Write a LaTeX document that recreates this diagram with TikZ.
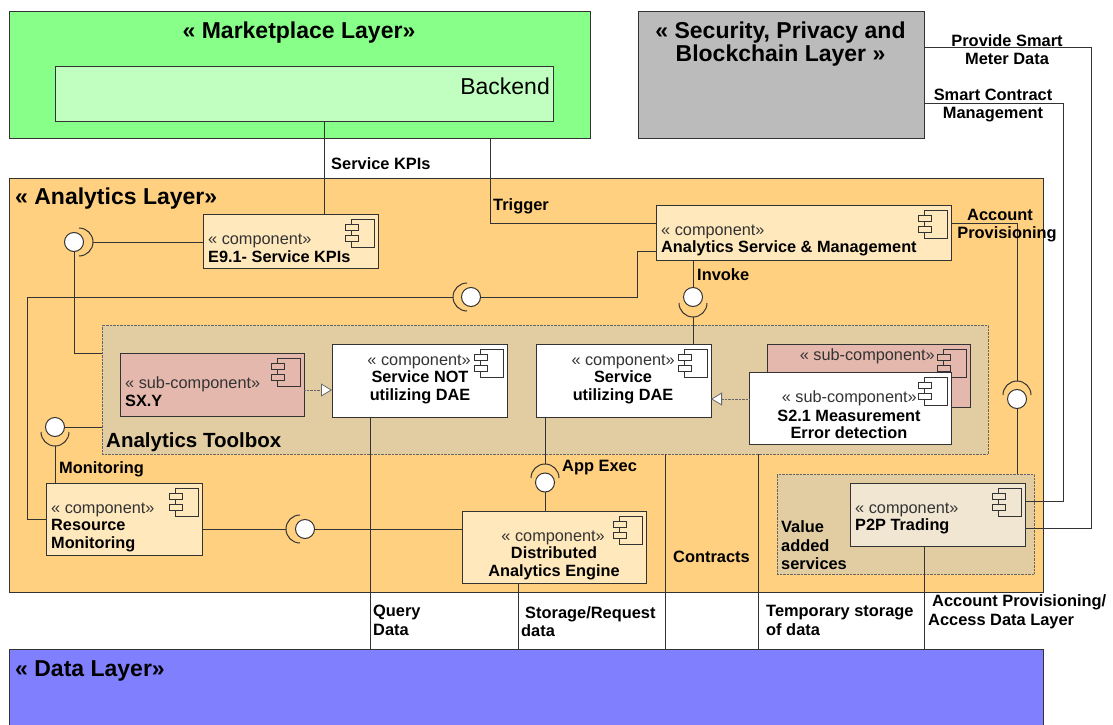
\documentclass[tikz,border=0pt]{standalone}
\usepackage{fontspec}
\setmainfont{Liberation Sans}
\usetikzlibrary{arrows.meta}

\definecolor{marketgreen}{HTML}{88FF88}
\definecolor{backendgreen}{HTML}{C0FFC0}
\definecolor{securitygray}{HTML}{BBBBBB}
\definecolor{analyticsorange}{HTML}{FFD07F}
\definecolor{datablue}{HTML}{8080FF}
\definecolor{groupbrown}{HTML}{E2CDA3}
\definecolor{compyellow}{HTML}{FFE8BC}
\definecolor{subred}{HTML}{E5B8AD}
\definecolor{p2pcream}{HTML}{F0E6D2}
\definecolor{linegray}{HTML}{333333}

\tikzset{
  layerbox/.style={draw=linegray, line width=1pt, inner sep=0pt, outer sep=0pt},
  groupbox/.style={draw=black!60, densely dotted, fill=groupbrown, inner sep=0pt, outer sep=0pt},
  compbox/.style={draw=linegray, line width=1pt, inner sep=0pt, outer sep=0pt},
  ball/.style={circle, draw=linegray, fill=white, line width=1pt, minimum size=19pt, inner sep=0pt, outer sep=0pt},
  conn/.style={draw=linegray, line width=1pt},
  realize/.style={draw=black!60, densely dotted, -{Triangle[open,fill=white,length=11pt,width=13pt,line width=0.8pt]}},
  titletext/.style={font=\bfseries\fontsize{23}{23.5}\selectfont, inner sep=0pt, align=center, yshift=-2pt},
  stereotext/.style={font=\fontsize{16.3}{17.5}\selectfont, text=black!80, inner sep=0pt, yshift=-1.5pt},
  nametext/.style={font=\bfseries\fontsize{16.3}{17.5}\selectfont, inner sep=0pt, yshift=-1pt},
  lab/.style={font=\bfseries\fontsize{16.4}{18.5}\selectfont, inner sep=0pt, yshift=-1pt}
}

% component icon in the upper right corner of a box
\newcommand{\compicon}[2]{
  \draw[linegray, line width=0.8pt] ([shift={(-27pt,-5pt)}]#1.north east) rectangle ([shift={(-3.5pt,-33pt)}]#1.north east);
  \draw[linegray, line width=0.8pt, fill=#2] ([shift={(-33pt,-10pt)}]#1.north east) rectangle ([shift={(-19.5pt,-16pt)}]#1.north east);
  \draw[linegray, line width=0.8pt, fill=#2] ([shift={(-33pt,-21.5pt)}]#1.north east) rectangle ([shift={(-19.5pt,-27.5pt)}]#1.north east);
}
% half circle opening towards the ball, #2 is its outermost point
\newcommand{\socket}[3]{
  \coordinate (#1) at (#2);
  \draw[conn] (#1) arc[start angle=#3, end angle=#3+90, radius=14pt];
  \draw[conn] (#1) arc[start angle=#3, end angle=#3-90, radius=14pt];
}

\begin{document}
\begin{tikzpicture}[x=1pt, y=-1pt]
\useasboundingbox (0,0) rectangle (1113,725);

% layers
\node[layerbox, fill=marketgreen, minimum width=581pt, minimum height=126pt] (market) at (299.5,75) {};
\node[layerbox, fill=backendgreen, minimum width=498pt, minimum height=54pt] (backend) at (304,94) {};
\node[layerbox, fill=securitygray, minimum width=286pt, minimum height=126pt] (security) at (781,75) {};
\node[layerbox, fill=analyticsorange, minimum width=1034pt, minimum height=414pt] (analytics) at (526,385) {};
\node[layerbox, fill=datablue, minimum width=1034pt, minimum height=90pt] (data) at (526,694) {};

% groups
\node[groupbox, minimum width=886pt, minimum height=129pt] (toolbox) at (545,389.5) {};
\node[groupbox, minimum width=257pt, minimum height=100pt] (valueadded) at (905.5,524) {};

% sockets
\socket{sockkpi}{93,242}{0}
\socket{sockmid}{453,297}{180}
\socket{sockmon}{55,446}{270}
\socket{sockinv}{693,317}{270}
\socket{sockacc}{1017,381}{90}
\socket{sockapp}{545,464}{90}
\socket{sockres}{286,529}{180}

% balls
\node[ball] (ballkpi) at (74,242) {};
\node[ball] (ballmid) at (471,297) {};
\node[ball] (ballmon) at (55,427) {};
\node[ball] (ballinv) at (693,297) {};
\node[ball] (ballacc) at (1017,399) {};
\node[ball] (ballapp) at (545,482.5) {};
\node[ball] (ballres) at (305,529) {};

% components
\node[compbox, fill=compyellow, minimum width=175pt, minimum height=54pt] (kpis) at (290.5,241) {};
\node[compbox, fill=compyellow, minimum width=295pt, minimum height=55pt] (service) at (803.5,232.5) {};
\node[compbox, fill=subred, minimum width=184pt, minimum height=63pt] (sxy) at (212,384.5) {};
\node[compbox, fill=white, minimum width=175pt, minimum height=73pt] (notdae) at (419.5,380.5) {};
\node[compbox, fill=white, minimum width=175pt, minimum height=73pt] (usedae) at (623.5,380.5) {};
\node[compbox, fill=subred, minimum width=203pt, minimum height=63pt] (subback) at (868.5,375.5) {};
\compicon{subback}{subred}
\node[compbox, fill=white, minimum width=202pt, minimum height=72pt] (errdet) at (850,408) {};
\node[compbox, fill=compyellow, minimum width=156pt, minimum height=72pt] (monitor) at (124,519) {};
\node[compbox, fill=compyellow, minimum width=184pt, minimum height=72pt] (engine) at (554,547) {};
\node[compbox, fill=p2pcream, minimum width=175pt, minimum height=63pt] (p2p) at (937.5,514.5) {};

\compicon{kpis}{compyellow}
\compicon{service}{compyellow}
\compicon{sxy}{subred}
\compicon{notdae}{white}
\compicon{usedae}{white}
\compicon{errdet}{white}
\compicon{monitor}{compyellow}
\compicon{engine}{compyellow}
\compicon{p2p}{p2pcream}

% connectors
\draw[conn] ([xshift=33.5pt]kpis.north) -- ([xshift=20pt]backend.south);
\draw[conn] ([xshift=190.5pt]market.south) |- ([yshift=9.5pt]service.west);
\draw[conn] (sockkpi) -- (kpis.west |- sockkpi);
\draw[conn] (ballkpi.south) |- ([yshift=36.5pt]toolbox.west);
\draw[conn] ([yshift=-18.5pt]service.west) -- ++(-19,0) |- (ballmid.east);
\draw[conn] (sockmid) -- ++(-426,0) |- (monitor.west);
\draw[conn] (ballmon.east) -- (toolbox.west |- ballmon);
\draw[conn] (sockmon) -- (sockmon |- monitor.north);
\draw[conn] (ballinv.north) -- (ballinv |- service.south);
\draw[conn] (sockinv) -- (sockinv |- usedae.north);
\draw[conn] ([xshift=-78.5pt]usedae.south) -- (sockapp);
\draw[conn] (ballapp.south) -- (ballapp |- engine.north);
\draw[conn] (monitor.east |- sockres) -- (sockres);
\draw[conn] (ballres.east) -- (engine.west |- ballres);
\draw[conn] ([yshift=9.5pt]service.east) -| (sockacc);
\draw[conn] (ballacc.south) -- (ballacc |- valueadded.north);
\draw[conn] ([yshift=27pt]security.east) -- ++(167,0) |- ([yshift=-13.5pt]p2p.east);
\draw[conn] ([yshift=-28pt]security.east) -- ++(139,0) |- ([yshift=13.5pt]p2p.east);
\draw[conn] ([xshift=-49.5pt]notdae.south) -- (data.north -| 370,0);
\draw[conn] ([xshift=-36pt]engine.south) -- (data.north -| 518,0);
\draw[conn] (toolbox.south -| 665.5,0) -- (data.north -| 665.5,0);
\draw[conn] (toolbox.south -| 758,0) -- (data.north -| 758,0);
\draw[conn] ([xshift=-13.5pt]p2p.south) -- (data.north -| 924,0);
\draw[realize] (sxy.east |- 0,390) -- (notdae.west |- 0,390);
\draw[realize] (errdet.west |- 0,399) -- (usedae.east |- 0,399);

% layer titles
\node[titletext] (markettitle) at (299,31) {« Marketplace Layer»};
\node[font=\fontsize{23}{24}\selectfont, inner sep=0pt, anchor=east] (backendtitle) at (550,86) {Backend};
\node[titletext] (securitytitle) at (780.5,42) {« Security, Privacy and\\Blockchain Layer »};
\node[titletext, anchor=west] (analyticstitle) at (15,197) {« Analytics Layer»};
\node[titletext, anchor=west] (datatitle) at (15,669) {« Data Layer»};
\node[titletext, anchor=west, font=\bfseries\fontsize{20.5}{23}\selectfont] (toolboxtitle) at (106,440.5) {Analytics Toolbox};

% component texts
\node[stereotext, anchor=west] (kpisst) at (208,239) {« component»};
\node[nametext, anchor=west] (kpisname) at (208,256) {E9.1- Service KPIs};
\node[stereotext, anchor=west] (servicest) at (661,230) {« component»};
\node[nametext, anchor=west] (servicename) at (661,247) {Analytics Service \& Management};
\node[stereotext, anchor=west] (sxyst) at (125,383) {« sub-component»};
\node[nametext, anchor=west] (sxyname) at (125,400) {SX.Y};
\node[stereotext, anchor=east] (notdaest) at (471,360) {« component»};
\node[nametext, align=center] (notdaename) at (420,386.5) {Service NOT\\utilizing DAE};
\node[stereotext, anchor=east] (usedaest) at (675,360) {« component»};
\node[nametext, align=center] (usedaename) at (623,386.5) {Service\\utilizing DAE};
\node[stereotext, anchor=east] (subbackst) at (935,355) {« sub-component»};
\node[stereotext, anchor=east] (errdetst) at (917,397) {« sub-component»};
\node[nametext, align=center] (errdetname) at (849,423.5) {S2.1 Measurement\\Error detection};
\node[stereotext, anchor=west] (monitorst) at (51,508) {« component»};
\node[nametext, align=left, anchor=west] (monitorname) at (51,534.5) {Resource\\Monitoring};
\node[stereotext, anchor=east] (enginest) at (605,536) {« component»};
\node[nametext, align=center] (enginename) at (554,562.5) {Distributed\\Analytics Engine};
\node[stereotext, anchor=west] (p2pst) at (855,508) {« component»};
\node[nametext, anchor=west] (p2pname) at (855,525) {P2P Trading};

% connector labels
\node[lab, anchor=west] (labkpis) at (331,163) {Service KPIs};
\node[lab, anchor=west] (labtrigger) at (493,205) {Trigger};
\node[lab, align=center] (labacc) at (1007,224.5) {Account\hspace*{14pt}\\Provisioning};
\node[lab, anchor=west] (labinvoke) at (697,274) {Invoke};
\node[lab, align=center] (labmeter) at (1007,48.5) {Provide Smart\\Meter Data};
\node[lab, align=center] (labsmart) at (993,104.5) {Smart Contract\\Management};
\node[lab, anchor=west] (labmon) at (59,468) {Monitoring};
\node[lab, anchor=west] (labapp) at (562,467) {App Exec};
\node[lab, anchor=west] (labcontracts) at (673,556) {Contracts};
\node[lab, align=left, anchor=west] (labquery) at (373,619.5) {Query\\Data};
\node[lab, align=left, anchor=west] (labstorage) at (521,620.5) {\hspace*{4pt}Storage/Request\\data};
\node[lab, align=left, anchor=west] (labtemp) at (766,619.5) {Temporary storage\\of data};
\node[lab, align=left, anchor=west] (labaccess) at (928,611) {\hspace*{4pt}Account Provisioning/\\Access Data Layer};
\node[lab, align=left, anchor=west] (labvalue) at (781,544.5) {Value\\added\\services};
\end{tikzpicture}
\end{document}
